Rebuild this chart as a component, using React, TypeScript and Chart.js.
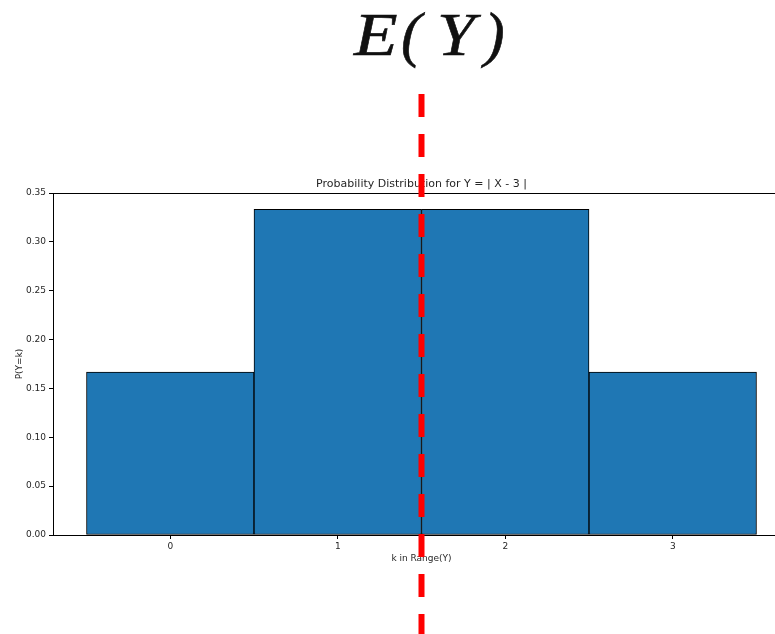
import React, { useEffect, useRef } from 'react';
import { Chart, registerables } from 'chart.js';

Chart.register(...registerables);

// Distribution of Y = |X - 3| for a fair die roll X
const categories = [0, 1, 2, 3];
const probabilities = [0.1667, 0.3333, 0.3333, 0.1667];
const yTickValues = [0, 0.05, 0.1, 0.15, 0.2, 0.25, 0.3, 0.35];
const expectedValue = 1.5;

const chartTitle = 'Probability Distribution for Y = | X - 3 |';
const xAxisTitle = 'k in Range(Y)';
const yAxisTitle = 'P(Y=k)';

const FONT = '"DejaVu Sans", sans-serif';
const TEXT_COLOR = '#262626';

// Draws one glyph of the E(Y) caption, optionally widened
function drawCaptionGlyph(ctx: CanvasRenderingContext2D, ch: string, x: number, y: number, sx: number) {
  ctx.save();
  ctx.translate(x, y);
  ctx.scale(sx, 1);
  ctx.fillText(ch, 0, 0);
  ctx.strokeText(ch, 0, 0);
  ctx.restore();
}

// Frame, heading, the big E(Y) caption and the dashed expectation marker
const overlayPlugin = {
  id: 'overlay',
  afterDraw(chart: any) {
    const { ctx, chartArea, scales } = chart;
    ctx.save();

    // top and right spines
    ctx.strokeStyle = '#000';
    ctx.lineWidth = 1;
    ctx.beginPath();
    ctx.moveTo(chartArea.left, chartArea.top + 0.5);
    ctx.lineTo(chartArea.right, chartArea.top + 0.5);
    ctx.moveTo(chartArea.right + 0.5, chartArea.top);
    ctx.lineTo(chartArea.right + 0.5, chartArea.bottom);
    ctx.stroke();

    // plot heading
    ctx.fillStyle = TEXT_COLOR;
    ctx.font = `11px ${FONT}`;
    ctx.textAlign = 'center';
    ctx.textBaseline = 'alphabetic';
    ctx.fillText(chartTitle, (chartArea.left + chartArea.right) / 2, chartArea.top - 6);

    // E(Y) caption
    ctx.fillStyle = '#111';
    ctx.strokeStyle = '#111';
    ctx.lineWidth = 0.6;
    ctx.font = 'italic 62px "Liberation Serif", serif';
    ctx.textAlign = 'left';
    drawCaptionGlyph(ctx, 'E', 354, 55, 1.15);
    drawCaptionGlyph(ctx, '(', 401, 55, 1);
    drawCaptionGlyph(ctx, 'Y', 437, 55, 1.1);
    drawCaptionGlyph(ctx, ')', 484, 55, 1);

    // dashed vertical line at the expected value
    const x = scales.x.getPixelForValue(expectedValue);
    ctx.strokeStyle = '#ff0000';
    ctx.lineWidth = 6;
    ctx.setLineDash([23, 17]);
    ctx.beginPath();
    ctx.moveTo(x, 94);
    ctx.lineTo(x, chart.height + 10);
    ctx.stroke();

    ctx.restore();
  },
};

export default function App() {
  const canvasRef = useRef<HTMLCanvasElement | null>(null);

  useEffect(() => {
    const canvas = canvasRef.current;
    if (!canvas) return;

    const chart = new Chart(canvas, {
      type: 'bar',
      data: {
        datasets: [
          {
            data: categories.map((k, i) => ({ x: k, y: probabilities[i] })),
            backgroundColor: '#1f77b4',
            borderColor: '#000',
            borderWidth: 1,
            borderSkipped: false,
            barPercentage: 1,
            categoryPercentage: 1,
          },
        ],
      },
      options: {
        animation: false,
        responsive: false,
        maintainAspectRatio: false,
        devicePixelRatio: 1,
        layout: { padding: { top: 193, left: 0, right: 10, bottom: 65 } },
        plugins: {
          legend: { display: false },
          tooltip: { enabled: false },
          title: { display: false },
        },
        scales: {
          x: {
            type: 'linear',
            offset: false,
            min: -0.7,
            max: 3.7,
            afterBuildTicks: (s: any) => {
              s.ticks = categories.map((v) => ({ value: v }));
            },
            afterFit: (s: any) => {
              s.height = 34;
            },
            ticks: {
              callback: (v: any) => String(v),
              font: { family: FONT, size: 9 },
              color: TEXT_COLOR,
              padding: 2,
              autoSkip: false,
              maxRotation: 0,
            },
            grid: {
              display: true,
              offset: false,
              drawOnChartArea: false,
              drawTicks: true,
              tickLength: 4,
              color: '#000',
            },
            border: { display: true, color: '#000', width: 1 },
            title: {
              display: true,
              text: xAxisTitle,
              font: { family: FONT, size: 9 },
              color: TEXT_COLOR,
              padding: { top: 0, bottom: 5 },
            },
          },
          y: {
            type: 'linear',
            min: 0,
            max: 0.35,
            afterBuildTicks: (s: any) => {
              s.ticks = yTickValues.map((v) => ({ value: v }));
            },
            afterFit: (s: any) => {
              s.width = 53;
            },
            ticks: {
              callback: (v: any) => Number(v).toFixed(2),
              font: { family: FONT, size: 9 },
              color: TEXT_COLOR,
              padding: 3,
            },
            grid: {
              display: true,
              drawOnChartArea: false,
              drawTicks: true,
              tickLength: 4,
              color: '#000',
            },
            border: { display: true, color: '#000', width: 1 },
            title: {
              display: true,
              text: yAxisTitle,
              font: { family: FONT, size: 9 },
              color: TEXT_COLOR,
              padding: { top: 14, bottom: 0 },
            },
          },
        },
      },
      plugins: [overlayPlugin],
    });

    return () => chart.destroy();
  }, []);

  return (
    <div
      style={{
        position: 'absolute',
        left: 0,
        top: 0,
        width: 775,
        height: 634,
        overflow: 'hidden',
        background: '#fff',
      }}
    >
      <canvas ref={canvasRef} width={800} height={634} style={{ display: 'block' }} />
    </div>
  );
}
